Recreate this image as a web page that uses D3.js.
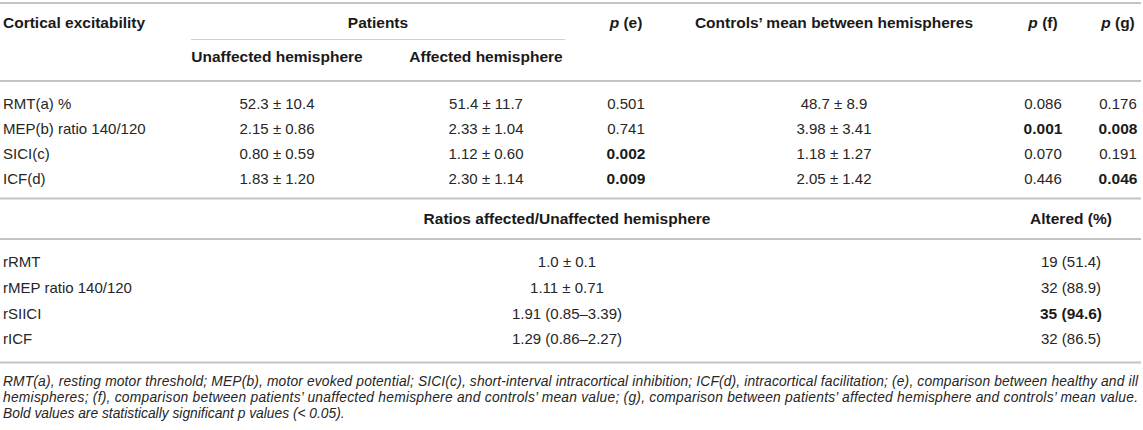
<!DOCTYPE html>
<html>
<head>
<meta charset="utf-8">
<script src="https://cdn.jsdelivr.net/npm/d3@7"></script>
<style>
  body { margin: 0; background: #fff; }
  svg text { font-family: "Liberation Sans", Arial, Helvetica, sans-serif; fill: #262626; }
</style>
</head>
<body>
<div id="draw"></div>
<script>
// table data
var rowLabels = ["RMT(a) %", "MEP(b) ratio 140/120", "SICI(c)", "ICF(d)"];
var unaffected = ["52.3 \u00b1 10.4", "2.15 \u00b1 0.86", "0.80 \u00b1 0.59", "1.83 \u00b1 1.20"];
var affected = ["51.4 \u00b1 11.7", "2.33 \u00b1 1.04", "1.12 \u00b1 0.60", "2.30 \u00b1 1.14"];
var pE = ["0.501", "0.741", "0.002", "0.009"];
var controls = ["48.7 \u00b1 8.9", "3.98 \u00b1 3.41", "1.18 \u00b1 1.27", "2.05 \u00b1 1.42"];
var pF = ["0.086", "0.001", "0.070", "0.446"];
var pG = ["0.176", "0.008", "0.191", "0.046"];

var ratioLabels = ["rRMT", "rMEP ratio 140/120", "rSIICI", "rICF"];
var ratioValues = ["1.0 \u00b1 0.1", "1.11 \u00b1 0.71", "1.91 (0.85\u20133.39)", "1.29 (0.86\u20132.27)"];
var altered = ["19 (51.4)", "32 (88.9)", "35 (94.6)", "32 (86.5)"];
var alteredBold = [false, false, true, false];

var notes = [
  "RMT(a), resting motor threshold; MEP(b), motor evoked potential; SICI(c), short-interval intracortical inhibition; ICF(d), intracortical facilitation; (e), comparison between healthy and ill",
  "hemispheres; (f), comparison between patients\u2019 unaffected hemisphere and controls\u2019 mean value; (g), comparison between patients\u2019 affected hemisphere and controls\u2019 mean value.",
  "Bold values are statistically significant p values (< 0.05)."
];

window.onload = function () {
  var W = 1143, H = 430;
  var svg = d3.select('#draw').append('svg').attr('width', W).attr('height', H);

  // column centres
  var colX = d3.scaleOrdinal()
    .domain(['unaff', 'aff', 'pE', 'ctrl', 'pF', 'pG', 'ratio', 'alt'])
    .range([277, 486, 626, 834, 1043, 1118, 567, 1071]);
  var topY = d3.scalePoint().domain(rowLabels).range([104, 179]);
  var botY = d3.scalePoint().domain(ratioLabels).range([262, 339]);

  var lineCol = '#c4c4c4';
  function hline(y, x1, x2, w, c) {
    svg.append('line').attr('x1', x1).attr('x2', x2).attr('y1', y).attr('y2', y)
      .attr('stroke', c || lineCol).attr('stroke-width', w || 2);
  }
  hline(3, 0, 1141);
  hline(39.5, 191, 565, 1, '#cfcfcf');
  hline(81, 0, 1141);
  hline(198.5, 0, 1141);
  hline(239, 0, 1141);
  hline(362.5, 0, 1141);

  function txt(x, y, s, anchor, bold) {
    return svg.append('text').attr('x', x).attr('y', y).attr('dy', '0.35em')
      .attr('text-anchor', anchor || 'middle')
      .style('font-size', bold ? '15.5px' : '15px')
      .style('font-weight', bold ? 'bold' : 'normal')
      .style('fill', bold ? '#1a1a1a' : null)
      .text(s);
  }
  function pHead(x, y, letter) {
    var t = txt(x, y, '', 'middle', true);
    t.append('tspan').style('font-style', 'italic').text('p');
    t.append('tspan').text(' (' + letter + ')');
  }

  // header
  txt(3, 22.5, 'Cortical excitability', 'start', true);
  txt(378, 22.5, 'Patients', 'middle', true);
  pHead(colX('pE'), 22.5, 'e');
  txt(colX('ctrl'), 22.5, 'Controls\u2019 mean between hemispheres', 'middle', true);
  pHead(colX('pF'), 22.5, 'f');
  pHead(colX('pG'), 22.5, 'g');
  txt(colX('unaff'), 57, 'Unaffected hemisphere', 'middle', true);
  txt(colX('aff'), 57, 'Affected hemisphere', 'middle', true);

  // body rows
  function sig(v) { return +v < 0.05; }
  rowLabels.forEach(function (lab, i) {
    var y = topY(lab);
    txt(3, y, lab, 'start', false);
    txt(colX('unaff'), y, unaffected[i]);
    txt(colX('aff'), y, affected[i]);
    txt(colX('pE'), y, pE[i], 'middle', sig(pE[i]));
    txt(colX('ctrl'), y, controls[i]);
    txt(colX('pF'), y, pF[i], 'middle', sig(pF[i]));
    txt(colX('pG'), y, pG[i], 'middle', sig(pG[i]));
  });

  // ratios section
  txt(colX('ratio'), 219, 'Ratios affected/Unaffected hemisphere', 'middle', true);
  txt(colX('alt'), 219, 'Altered (%)', 'middle', true);
  ratioLabels.forEach(function (lab, i) {
    var y = botY(lab);
    txt(3, y, lab, 'start', false);
    txt(colX('ratio'), y, ratioValues[i]);
    txt(colX('alt'), y, altered[i], 'middle', alteredBold[i]);
  });

  // footnote, first two lines justified
  var noteY = [381, 397, 413];
  notes.forEach(function (s, i) {
    var t = svg.append('text').attr('x', 3).attr('y', noteY[i]).attr('dy', '0.35em')
      .style('font-size', '13.8px').style('font-style', 'italic').text(s);
    if (i < 2) t.attr('textLength', 1135).attr('lengthAdjust', 'spacing');
  });
};
</script>
</body>
</html>
